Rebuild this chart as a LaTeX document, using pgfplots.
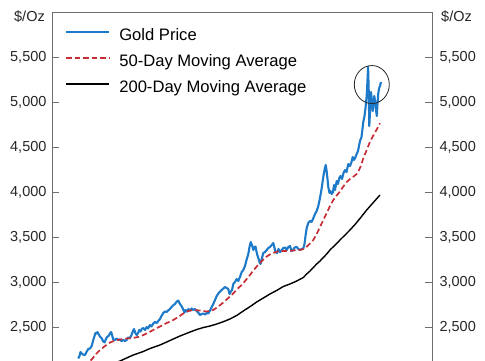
\documentclass[border=0pt]{standalone}
\usepackage{pgfplots}
\pgfplotsset{compat=1.18}
\usepackage{fontspec}
\setmainfont{Liberation Sans}
\definecolor{goldblue}{RGB}{28,122,200}
\definecolor{mared}{RGB}{200,45,55}
\definecolor{axgray}{RGB}{110,110,110}
\begin{document}
\begin{tikzpicture}
\pgfplotsset{
 common/.style={
  scale only axis, width=380pt, height=360pt,
  at={(0pt,0pt)}, anchor=south west,
  xmin=52, xmax=432, ymin=2000, ymax=6000,
  xtick=\empty,
  ytick={2500,3000,3500,4000,4500,5000,5500},
  /pgf/number format/1000 sep={,},
  /pgf/number format/assume math mode=true,
  tick label style={font=\fontsize{14.5}{17}\selectfont, text=black!85},
 }
}
\begin{axis}[common, name=ax,
  axis line style={axgray, line width=0.9pt},
  ytick pos=both, yticklabel pos=left, tick align=inside, major tick length=7pt,
  every tick/.style={axgray, line width=0.8pt},
  yticklabel style={xshift=-2pt},
  legend cell align=left,
  legend image code/.code={\draw[#1] (0pt,4.8pt) -- (43pt,4.8pt);},
  legend style={draw=none, fill=none, at={(0,1)}, anchor=north west,
    xshift=13pt, yshift=-17pt, inner sep=0pt, row sep=11pt, column sep=9pt,
    font=\fontsize{16.6}{19}\selectfont,
    nodes={inner sep=0pt, text height=11.5pt, text depth=3.5pt}},
]
\addplot[goldblue, line width=2.1pt, line join=round] coordinates {
(78.3,2150)(79.5,2178)(80.5,2222)(81.7,2206)(83,2194)(85,2189)(86.5,2222)(88.3,2256)(90,2261)(91.7,2289)(93,2344)(94.2,2389)(95.5,2433)(96.5,2428)(97.5,2444)(98.5,2422)(100,2394)(101.5,2378)(103,2344)(104.5,2328)(105.5,2356)(107,2389)(108.5,2400)(110,2428)(111.2,2444)(112.3,2400)(113.3,2361)(115,2356)(116.7,2372)(118,2356)(120,2361)(121.5,2344)(123.3,2356)(125,2344)(126.7,2356)(128,2383)(130,2378)(131.5,2411)(133,2456)(134,2478)(135.3,2433)(136.7,2411)(138,2433)(139.3,2467)(140.5,2450)(141.7,2478)(143.3,2489)(145,2467)(146.7,2500)(148,2483)(150,2522)(151.5,2506)(153.3,2539)(155,2556)(156.7,2544)(158.3,2567)(160,2589)(161.5,2622)(163.3,2656)(165,2672)(166.7,2667)(168,2683)(170,2700)(171.5,2722)(173,2739)(175,2756)(176.7,2783)(178.3,2794)(180,2756)(181.7,2728)(183,2700)(184.5,2661)(185.5,2689)(187,2672)(188.5,2700)(190,2683)(191.7,2706)(193.3,2689)(195,2700)(196.7,2678)(198.5,2656)(200,2633)(201.7,2644)(203.3,2650)(205,2639)(206.7,2656)(208.3,2650)(210,2683)(211.7,2722)(213.3,2756)(215,2800)(216.7,2844)(218.3,2872)(220,2894)(221.7,2911)(223.3,2928)(225,2944)(226.7,2933)(228.3,2922)(229.5,2867)(230.5,2889)(232,2911)(233.3,2978)(235,3000)(236.7,3033)(238.3,3011)(240,3056)(241.7,3111)(243.3,3133)(245,3178)(246.5,3244)(248.3,3311)(249.5,3389)(250.7,3444)(252,3411)(253.3,3356)(254.5,3389)(255.5,3394)(257,3311)(258.3,3267)(259.5,3222)(260.5,3200)(261.7,3256)(263.3,3322)(265,3333)(266.7,3356)(268.3,3378)(270,3389)(271.7,3411)(273.3,3433)(274.5,3378)(275.5,3333)(277,3322)(278.5,3367)(280,3333)(281.5,3350)(283.3,3378)(285,3383)(286.7,3356)(288.3,3389)(290,3400)(291.5,3344)(293,3356)(294.5,3383)(296.7,3389)(298.3,3367)(300,3356)(301.7,3367)(303.3,3372)(304.5,3422)(305.5,3511)(306.7,3600)(308.3,3656)(310,3678)(311.5,3667)(313,3700)(315,3756)(316.7,3789)(318.3,3844)(320,3933)(321.7,4044)(323.3,4167)(324.5,4244)(325.7,4300)(326.5,4244)(327.3,4167)(328.3,4056)(329.5,3989)(330.5,4011)(331.7,3978)(333,4000)(334,4078)(335,4022)(336.7,4122)(338,4089)(339.3,4156)(340.5,4178)(342,4144)(343.5,4211)(345,4244)(346.5,4222)(348.3,4311)(350,4289)(351.5,4333)(352.7,4389)(354,4356)(355.5,4389)(356.7,4422)(358,4456)(359,4511)(360,4567)(361.5,4611)(363.3,4778)(364.5,4844)(365.5,4933)(366.7,5067)(367.5,5244)(368.1,5392)(368.7,5133)(369.3,4733)(370.2,4933)(371,5111)(371.8,5022)(372.7,4900)(373.5,4989)(374.3,5067)(375.2,5000)(376,4911)(376.8,4844)(377.5,4978)(378.3,5100)(379.2,5156)(380,5178)(381,5222)
};
\addlegendentry{Gold Price}
\addplot[mared, line width=1.7pt, dash pattern=on 5.5pt off 3pt] coordinates {
(78,2000)(85,2067)(91.7,2139)(96,2200)(100,2244)(105,2289)(110,2328)(115,2350)(120,2361)(126.7,2372)(133.3,2378)(140,2394)(146.7,2428)(153.3,2467)(160,2506)(166.7,2544)(173.3,2578)(178.3,2611)(183.3,2650)(188.3,2678)(193.3,2689)(200,2683)(206.7,2672)(213.3,2689)(218.3,2728)(223.3,2772)(228.3,2822)(233.3,2874)(238.3,2933)(241.7,2967)(246.7,3033)(250,3078)(253.3,3128)(256.7,3172)(260,3211)(263.3,3250)(266.7,3283)(270,3306)(273.3,3322)(276.7,3337)(280,3344)(286.7,3344)(293.3,3350)(300,3356)(303.3,3367)(306.7,3392)(310,3428)(313.3,3467)(316.7,3533)(320,3611)(323.3,3689)(326.7,3767)(330,3844)(333.3,3911)(336.7,3961)(340,4006)(343.3,4061)(346.7,4111)(350,4144)(353.3,4170)(356.7,4200)(358.3,4226)(360.8,4289)(363.3,4374)(366.7,4467)(370,4559)(373,4622)(376.7,4694)(380,4763)
};
\addlegendentry{50-Day Moving Average}
\addplot[black, line width=1.4pt] coordinates {
(78,1933)(90,1989)(100,2033)(110,2083)(120,2122)(123.3,2139)(133.3,2189)(143.3,2228)(150,2261)(160,2300)(170,2350)(180,2400)(190,2444)(196.7,2472)(203.3,2494)(210,2511)(216.7,2533)(223.3,2559)(230,2589)(236.7,2628)(243.3,2678)(250,2726)(256.7,2778)(263.3,2822)(270,2867)(276.7,2906)(283.3,2950)(290,2978)(296.7,3011)(303.3,3050)(306.7,3089)(310,3122)(313.3,3161)(316.7,3200)(320,3233)(323.3,3272)(326.7,3311)(330,3356)(333.3,3392)(336.7,3428)(340,3467)(345,3522)(350,3578)(355,3639)(360,3706)(366.7,3800)(373.3,3883)(380,3967)
};
\addlegendentry{200-Day Moving Average}
\draw[black!85, line width=0.8pt] (axis cs:371.8,5194) ellipse [x radius=17.5pt, y radius=19pt];
\end{axis}
\begin{axis}[common, hide x axis, axis y line*=right, yticklabel pos=right,
  axis line style={draw=none}, major tick length=0pt,
  yticklabel style={xshift=4pt}]
\addplot[draw=none] coordinates {(100,3000)};
\end{axis}
\node[anchor=east, font=\fontsize{14.5}{17}\selectfont, text=black!85, inner sep=0pt] at (-7pt,355.3pt) {\$/Oz};
\node[anchor=west, font=\fontsize{14.5}{17}\selectfont, text=black!85, inner sep=0pt] at (389pt,355.3pt) {\$/Oz};
\pgfresetboundingbox
\path[use as bounding box] (-52pt,12pt) rectangle (433pt,372pt);
\end{tikzpicture}
\end{document}
